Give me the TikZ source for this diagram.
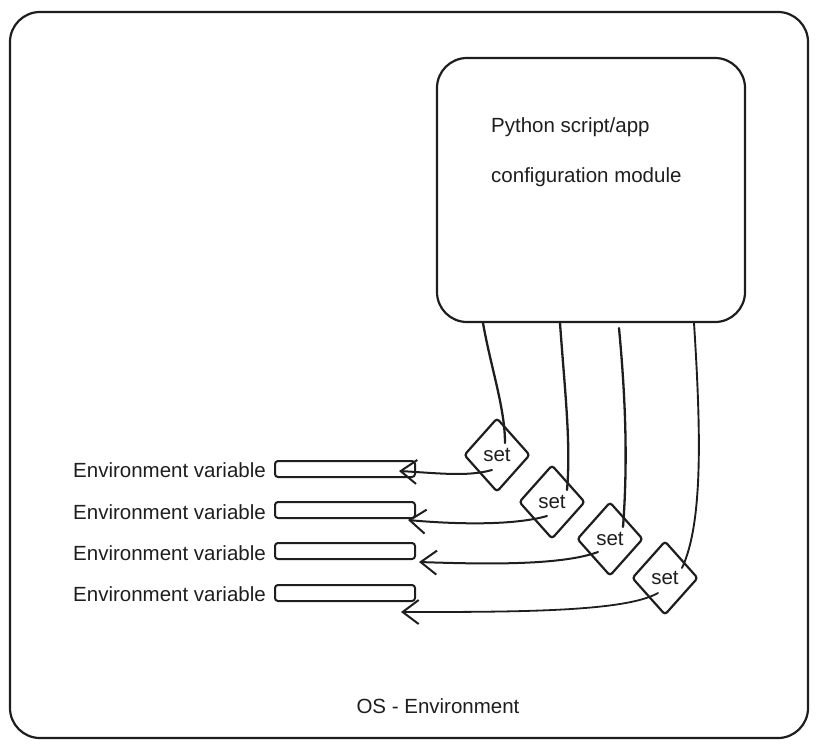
\documentclass[tikz,border=0pt]{standalone}
\usepackage{fontspec}
\setmainfont{Liberation Sans}
\usetikzlibrary{shapes.geometric,arrows.meta}
\definecolor{ink}{HTML}{1E1E1E}
\begin{document}
\begin{tikzpicture}[x=1pt,y=-1pt,
  every node/.style={font=\fontsize{20.5}{25}\selectfont, text=ink},
  stroke/.style={draw=ink, line width=2.2pt},
  setbox/.style={stroke, shape=diamond, minimum width=66pt, minimum height=74pt, inner sep=0pt, rounded corners=3pt},
  envbox/.style={stroke, line width=2pt, rectangle, rounded corners=3pt, minimum width=140pt, minimum height=16pt, inner sep=0pt},
  envlabel/.style={anchor=east, inner sep=0pt},
  link/.style={draw=ink, line width=2.3pt, line cap=round},
  arr/.style={draw=ink, line width=2pt, line cap=round, -{Straight Barb[length=16pt,width=24pt,line width=2pt]}}
]
\useasboundingbox (0,0) rectangle (818,747);
% outer frame
\draw[stroke, rounded corners=30pt] (10,12) rectangle (808,738);
\node (os) at (438,706) {OS - Environment};

% python box
\node[stroke, rectangle, rounded corners=30pt, minimum width=308pt, minimum height=264pt, inner sep=0pt] (py) at (591,190) {};
\node[anchor=west, inner sep=0pt] (t1) at (491,127) {Python script/app};
\node[anchor=west, inner sep=0pt] (t2) at (491,177) {configuration module};

% env boxes and labels
\node[envbox] (e1) at (345,469) {};
\node[envbox] (e2) at (345,510) {};
\node[envbox] (e3) at (345,551) {};
\node[envbox] (e4) at (345,593) {};
\node[envlabel] (l1) at (266,470) {Environment variable};
\node[envlabel] (l2) at (266,512) {Environment variable};
\node[envlabel] (l3) at (266,553) {Environment variable};
\node[envlabel] (l4) at (266,594) {Environment variable};

% set diamonds
\node[setbox] (d1) at (497,455) {set};
\node[setbox] (d2) at (552,502) {set};
\node[setbox] (d3) at (610,539) {set};
\node[setbox] (d4) at (665,578) {set};

% links from python box
\draw[link] ([xshift=-108pt]py.south) .. controls ([shift={(-100,45)}]py.south) and ([shift={(-86,85)}]py.south) .. ([shift={(8,-12)}]d1.center);
\draw[link] ([xshift=-31pt]py.south) .. controls ([shift={(-26,70)}]py.south) and ([shift={(-20,120)}]py.south) .. ([shift={(15,-12)}]d2.center);
\draw[link] ([shift={(28,5)}]py.south) .. controls ([shift={(36,90)}]py.south) and ([shift={(36,150)}]py.south) .. ([shift={(13,-12)}]d3.center);
\draw[link, line width=1.9pt] ([xshift=103pt]py.south) .. controls ([shift={(110,110)}]py.south) and ([shift={(112,200)}]py.south) .. ([shift={(17,-10)}]d4.center);

% arrows to env boxes
\draw[arr] ([shift={(-5,15)}]d1.center) .. controls ([shift={(-30,22)}]d1.center) and ([shift={(-60,18)}]d1.center) .. ([shift={(-17,2)}]e1.east);
\draw[arr] ([shift={(-5,14)}]d2.center) .. controls ([shift={(-40,24)}]d2.center) and ([shift={(-100,22)}]d2.center) .. ([shift={(-8,10)}]e2.east);
\draw[arr] ([shift={(-12,13)}]d3.center) .. controls ([shift={(-50,27)}]d3.center) and ([shift={(-130,25)}]d3.center) .. ([shift={(3,11)}]e3.east);
\draw[arr, line width=1.8pt] ([shift={(-7,15)}]d4.center) .. controls ([shift={(-40,34)}]d4.center) and ([shift={(-150,34)}]d4.center) .. ([shift={(-15,19)}]e4.east);
\end{tikzpicture}
\end{document}
